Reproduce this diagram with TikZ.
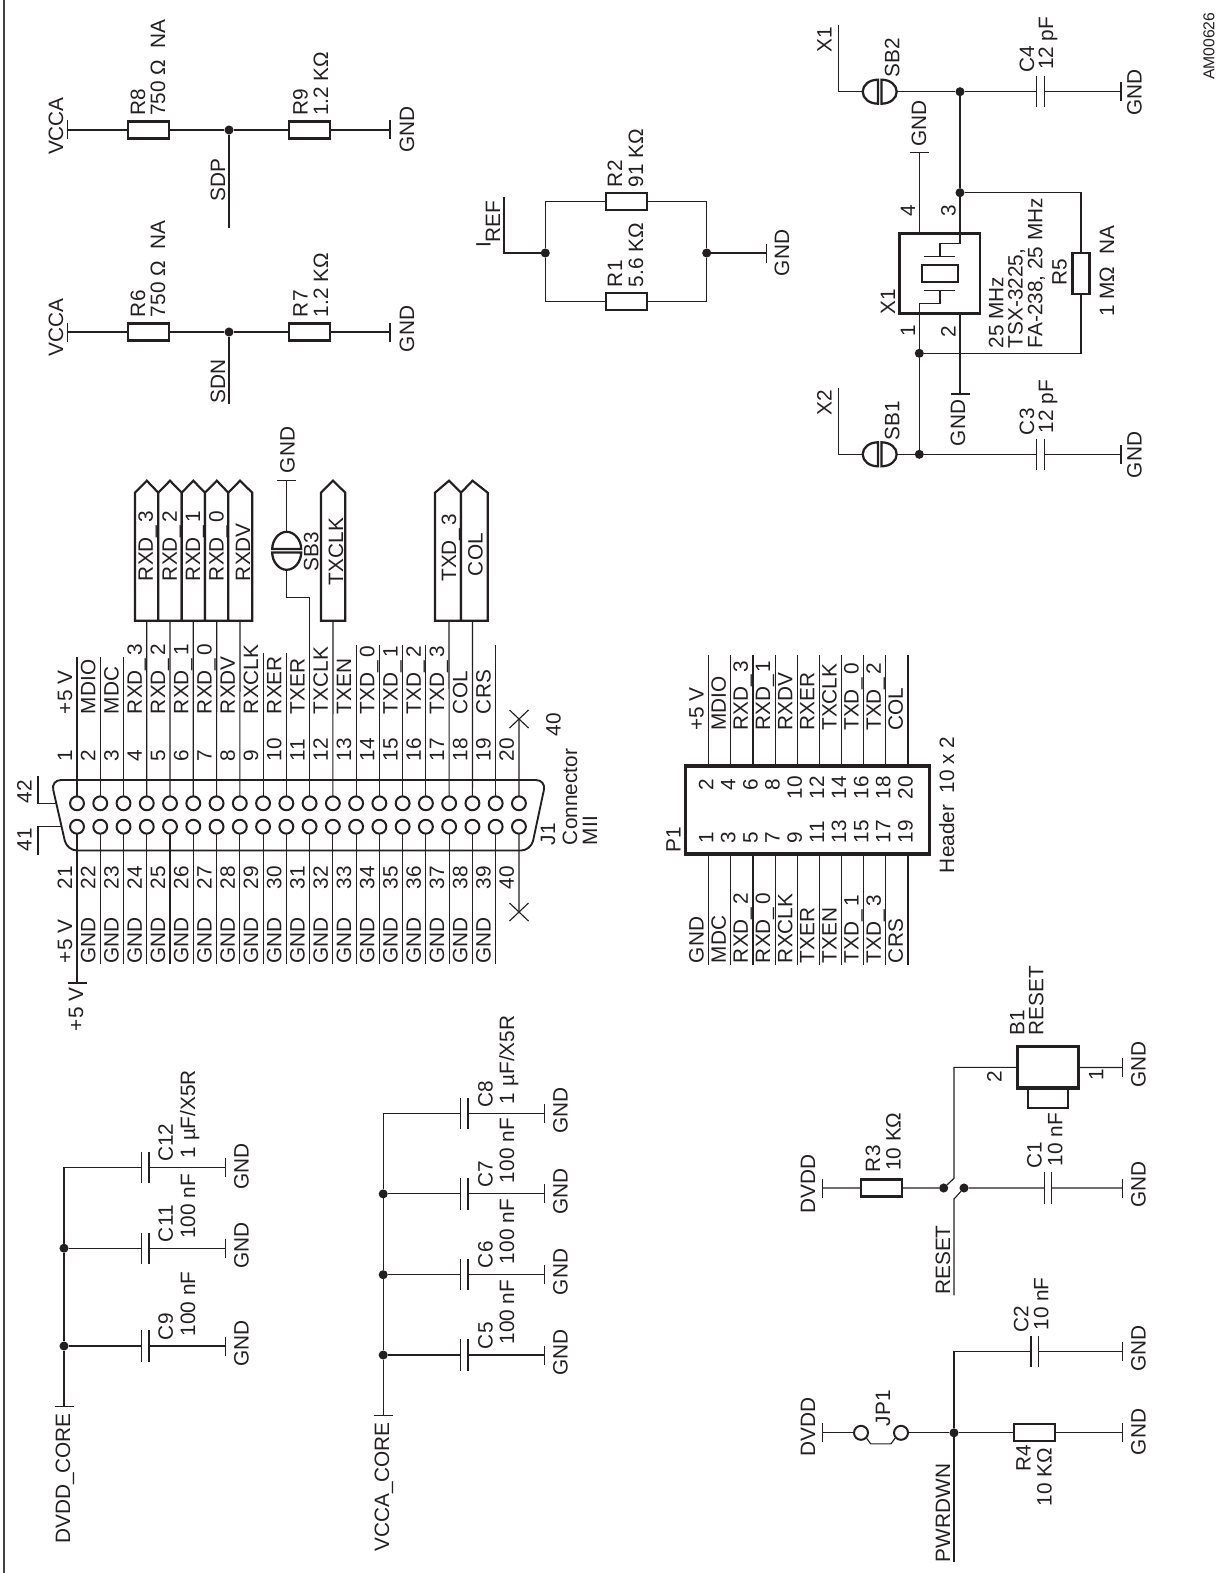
\documentclass[tikz,border=0pt]{standalone}
\usepackage{fontspec}
\setmainfont{Liberation Sans}
\definecolor{ink}{HTML}{231F20}
\tikzset{
  x=0.75pt,y=-0.75pt,
  wire/.style={draw=ink,line width=0.85pt},
  heavy/.style={draw=ink,line width=1.7pt},
  lbl/.style={anchor=base west,rotate=90,inner sep=0,outer sep=0,text=ink,font=\fontsize{15.6}{18}\selectfont},
  small/.style={font=\fontsize{11.8}{14}\selectfont},
  res/.style={rectangle,draw=ink,line width=1.7pt,minimum width=30.75pt,minimum height=12.75pt,inner sep=0,outer sep=0},
  dot/.style={circle,fill=ink,minimum size=6.8pt,inner sep=0,outer sep=0},
  capbody/.style={rectangle,minimum width=5.6pt,minimum height=23.5pt,inner sep=0,outer sep=0},
  sbh/.style={rectangle,minimum width=25.5pt,minimum height=18pt,inner sep=0,outer sep=0},
  sbv/.style={rectangle,minimum width=22pt,minimum height=28.5pt,inner sep=0,outer sep=0},
  pin/.style={circle,draw=ink,line width=1.5pt,minimum size=10.4pt,inner sep=0,outer sep=0},
  tag/.style={draw=ink,line width=1.6pt,fill=white},
}
\newcount\lbc
\newcommand{\lb}[4][]{\global\advance\lbc 1 \node[lbl,#1] (lab\the\lbc) at (#2,#3) {#4};}
\newcommand{\barv}[3]{\coordinate (#1) at (#2,#3); \draw[wire] (#2,#3-9.5) -- (#2,#3+9.5);}
\newcommand{\barh}[3]{\coordinate (#1) at (#2,#3); \draw[wire] (#2-9.5,#3) -- (#2+9.5,#3);}
\newcommand{\dotn}[3]{\node[dot] (#1) at (#2,#3) {};}
\newcommand{\capc}[4]{\node[capbody] (#1) at ({(#2+#3)/2},#4) {};
  \draw[wire] (#1.north west) -- (#1.south west) (#1.north east) -- (#1.south east);}
% horizontal-wire solder bridge
\newcommand{\sbhoriz}[3]{\node[sbh] (#1) at (#2,#3) {};
  \begin{scope}[shift={(#2,#3)}]
  \draw[heavy] (-1.7,-12) .. controls (-10.6,-12) and (-17,-6.6) .. (-17,0) .. controls (-17,6.6) and (-10.6,12) .. (-1.7,12) -- cycle;
  \draw[heavy] (1.7,-12) .. controls (10.6,-12) and (17,-6.6) .. (17,0) .. controls (17,6.6) and (10.6,12) .. (1.7,12) -- cycle;
  \end{scope}}
\newcommand{\sbvert}[3]{\node[sbv] (#1) at (#2,#3) {};
  \begin{scope}[shift={(#2,#3)}]
  \draw[heavy] (-14.5,-1.7) .. controls (-14.5,-10.6) and (-8,-19) .. (0,-19) .. controls (8,-19) and (14.5,-10.6) .. (14.5,-1.7) -- cycle;
  \draw[heavy] (-14.5,1.7) .. controls (-14.5,10.6) and (-8,19) .. (0,19) .. controls (8,19) and (14.5,10.6) .. (14.5,1.7) -- cycle;
  \end{scope}}
\newcommand{\usc}{\_\kern2.2pt}
\begin{document}
\begin{tikzpicture}
\useasboundingbox (0,0) rectangle (1225,1573);
\coordinate (FTop) at (3.8,0); \coordinate (FBot) at (3.8,1573);
\draw[draw=ink!85,line width=1.4pt] (FTop) -- (FBot);
\lb[small]{1214.3}{80}{AM00626}

%% ---------- R8/R9 ----------
\barv{V8}{67.7}{130} \node[res] (R8) at (148.7,130) {}; \dotn{J8}{229}{130} \node[res] (R9) at (309.7,130) {}; \barv{G9}{390}{130}
\coordinate (SDPe) at (229,228);
\draw[wire] (V8) -- (R8) -- (J8) -- (R9) -- (G9) (J8) -- (SDPe);
\lb{63}{155}{VCCA} \lb{145}{115.7}{R8} \lb{165}{115.7}{750 Ω \ NA} \lb{307.7}{115.7}{R9} \lb{328}{115.7}{1.2 KΩ} \lb{414}{153}{GND} \lb{225}{201}{SDP}
%% ---------- R6/R7 ----------
\barv{V6}{67.7}{332} \node[res] (R6) at (148.7,332) {}; \dotn{J6}{229}{332} \node[res] (R7) at (309.7,332) {}; \barv{G7}{390}{332}
\coordinate (SDNe) at (229,404);
\draw[wire] (V6) -- (R6) -- (J6) -- (R7) -- (G7) (J6) -- (SDNe);
\lb{63}{356}{VCCA} \lb{145}{317}{R6} \lb{165}{317}{750 Ω \ NA} \lb{307.7}{317}{R7} \lb{328}{317}{1.2 KΩ} \lb{414}{352}{GND} \lb{225}{403}{SDN}

%% ---------- R1/R2 ----------
\node[res] (R2) at (626.2,201.5) {}; \node[res] (R1) at (626.2,301.3) {};
\dotn{JL}{545.3}{253} \dotn{JR}{706.7}{253} \barv{GR}{766.7}{253}
\coordinate (IREFe) at (504,197);
\draw[wire] (IREFe) |- (JL) (JL) |- (R2) (JL) |- (R1) (JR) |- (R2) (JR) |- (R1) (JR) -- (GR);
\lb{490.7}{247}{I} \lb{500}{242.7}{REF} \lb{622}{187}{R2} \lb{643}{187}{91 KΩ} \lb{622}{287}{R1} \lb{643}{287}{5.6 KΩ} \lb{789}{276}{GND}

%% ---------- Crystal ----------
\coordinate (X1e) at (838.3,25); \coordinate (X2e) at (838.3,388.3);
\sbhoriz{SB2}{879.7}{91.7} \sbhoriz{SB1}{879.7}{454.3}
\dotn{JA}{960}{91.7} \dotn{JB}{960}{192.7} \dotn{JC}{919.3}{353.3} \dotn{JD}{919.3}{454.3}
\capc{C4}{1036.7}{1044.3}{91.7} \capc{C3}{1036.7}{1044.3}{454.3}
\barv{G4}{1121}{91.7} \barv{G3}{1121}{454.3}
\barh{G14}{919.3}{152.3} \barh{G12}{960}{394}
\node[rectangle,draw=ink,line width=2pt,minimum width=60.5pt,minimum height=60pt,inner sep=0,outer sep=0] (XBOX) at (939.65,273.3) {};
\node[rectangle,draw=ink,line width=1.7pt,minimum width=27.5pt,minimum height=12.5pt,inner sep=0,outer sep=0] (XQ) at (940,273.3) {};
\coordinate (P3i) at (960,243.3); \coordinate (P3b) at (940,256.7); \coordinate (P1i) at (940,290.7); \coordinate (P1b) at (919.3,303.3);
\draw[wire] (924,256.7) -- (955,256.7); \draw[wire] (924,290.7) -- (955,290.7);
\draw[wire] (X1e) |- (SB2) (SB2) -- (JA) -- (C4) -- (G4) (JA) -- (JB) -- (P3i) -| (P3b);
\draw[wire] (P1i) |- (P1b) -- (JC) -- (JD) (X2e) |- (SB1) (SB1) -- (JD) -- (C3) -- (G3);
\draw[wire] (G14) -- (919.3,233.3) (960,313.3) -- (G12);
\node[rectangle,draw=ink,line width=1.7pt,minimum width=12.75pt,minimum height=31pt,inner sep=0,outer sep=0] (R5) at (1081,273.3) {};
\draw[wire] (JB) -| (R5) (JC) -| (R5);
\lb{831.7}{52.7}{X1} \lb{831.7}{415}{X2} \lb{899.3}{77.7}{SB2} \lb{899.3}{440}{SB1}
\lb{1034}{72.7}{C4} \lb{1053}{70}{12 pF} \lb{1141.7}{116}{GND} \lb{1034}{435}{C3} \lb{1053}{433}{12 pF} \lb{1141.7}{478}{GND}
\lb{926}{146.7}{GND} \lb{965}{446}{GND}
\lb{915}{216.7}{4} \lb{955.7}{216.7}{3} \lb{915}{336.7}{1} \lb{955.7}{337.7}{2} \lb{895}{314.3}{X1}
\lb{1003.3}{348.3}{25 MHz} \lb{1022.7}{348.3}{TSX-3225,} \lb{1042.3}{348.3}{FA-238, 25 MHz} \lb{1066.7}{285.7}{R5} \lb{1114}{316.7}{1 MΩ \ NA}

%% ---------- J1 connector ----------
\draw[heavy,line width=1.4pt,rounded corners=7.5pt] (51,780) -- (546,780) -- (531,850.5) -- (67,850.5) -- cycle;
\foreach \i in {1,...,20}{
  \pgfmathsetmacro{\px}{77+(\i-1)*23.26}
  \node[pin] (pa\i) at (\px,803.3) {};
  \node[pin] (pb\i) at (\px,826.7) {};
}
\foreach \i/\t in {1/657,2/657,3/657,9/653,10/653,13/645,14/645,15/645,16/645,19/645}{
  \pgfmathsetmacro{\px}{77+(\i-1)*23.26}
  \coordinate (ta\i) at (\px,\t);
  \draw[wire] (pa\i) -- (ta\i);
}
\foreach \i in {2,...,19}{
  \pgfmathsetmacro{\px}{77+(\i-1)*23.26}
  \coordinate (bb\i) at (\px,964);
  \draw[wire] (pb\i) -- (bb\i);
}
\barh{P5B}{77}{983}
\draw[wire] (pb1) -- (P5B);
\coordinate (XT) at (519,719); \coordinate (XB) at (519,912);
\draw[wire] (pa20) -- (XT) (pb20) -- (XB);
\draw[wire] (509.5,710) -- (528.5,728) (509.5,728) -- (528.5,710);
\draw[wire] (509.5,903) -- (528.5,921) (509.5,921) -- (528.5,903);
\coordinate (L42) at (38,776); \coordinate (L41) at (38,855);
\draw[wire] (L42) |- (55.5,803.3) (L41) |- (60.7,826.7);
\lb{31.6}{803}{42} \lb{31.6}{851}{41} \lb{560.5}{736}{40} \lb{555}{845}{J1} \lb{577}{845}{Connector} \lb{597}{845}{MII} \lb{83}{1031}{+5 V}
% pin numbers
\foreach \i in {1,...,20}{
  \pgfmathsetmacro{\px}{77+(\i-1)*23.26-5}
  \lb{\px}{761}{\i}
  \pgfmathtruncatemacro{\j}{\i+20}
  \lb{\px}{889}{\j}
}
\foreach \i/\t in {1/+5 V,2/MDIO,3/MDC,4/RXD\usc3,5/RXD\usc2,6/RXD\usc1,7/RXD\usc0,8/RXDV,9/RXCLK,10/RXER,11/TXER,12/TXCLK,13/TXEN,14/TXD\usc0,15/TXD\usc1,16/TXD\usc2,17/TXD\usc3,18/COL,19/CRS}{
  \pgfmathsetmacro{\px}{77+(\i-1)*23.26-5}
  \lb{\px}{714}{\t}
}
\lb{72}{963}{+5 V}
\foreach \i in {2,...,19}{
  \pgfmathsetmacro{\px}{77+(\i-1)*23.26-5}
  \lb{\px}{963.3}{GND}
}
% tags
\newcommand{\tagshape}[5]{%name, left, right, tip-x, text
  \draw[tag] (#2,620.7) -- (#2,492.7) -- (#4,480.7) -- (#3,492.7) -- (#3,620.7) -- cycle;
  \node[inner sep=0,outer sep=0] (#1) at (#4,620.7) {};}
\tagshape{TG0}{135}{158.3}{146.8}{}
\tagshape{TG1}{158.3}{181.7}{170}{}
\tagshape{TG2}{181.7}{205}{193.3}{}
\tagshape{TG3}{205}{228.3}{216.8}{}
\tagshape{TG4}{228.3}{252.3}{240}{}
\tagshape{TG5}{321}{345.3}{333}{}
\tagshape{TG6}{435}{461}{449}{}
\tagshape{TG7}{461}{487.7}{472.5}{}
\draw[wire] (pa4) -- (TG0) (pa5) -- (TG1) (pa6) -- (TG2) (pa7) -- (TG3) (pa8) -- (TG4) (pa12) -- (TG5) (pa17) -- (TG6) (pa18) -- (TG7);
\lb{152.8}{581}{RXD\usc3} \lb{176.8}{581}{RXD\usc2} \lb{200.2}{581}{RXD\usc1} \lb{223.5}{581}{RXD\usc0} \lb{250}{581}{RXDV}
\lb{343}{585}{TXCLK} \lb{456.2}{581.7}{TXD\usc3} \lb{482.7}{576}{COL}
% SB3
\sbvert{SB3}{286.7}{550.8} \barh{G33}{286.7}{480.7}
\draw[wire] (G33) -- (SB3) (SB3) |- (pa11 |- 0,597.3) -- (pa11);
\lb{318.3}{571}{SB3} \lb{294.5}{473}{GND}

%% ---------- P1 header ----------
\node[rectangle,draw=ink,line width=2.4pt,minimum width=182.7pt,minimum height=66pt,inner sep=0,outer sep=0] (P1) at (807.5,810) {};
\foreach \i/\tt/\bt in {1/+5 V/GND,2/MDIO/MDC,3/RXD\usc3/RXD\usc2,4/RXD\usc1/RXD\usc0,5/RXDV/RXCLK,6/RXER/TXER,7/TXCLK/TXEN,8/TXD\usc0/TXD\usc1,9/TXD\usc2/TXD\usc3,10/COL/CRS}{
  \pgfmathsetmacro{\px}{708.7+(\i-1)*22.14}
  \pgfmathsetmacro{\qx}{\px-5}
  \pgfmathsetmacro{\nx}{\px+4.6}
  \coordinate (pt\i) at (\px,655); \coordinate (pq\i) at (\px,965);
  \draw[wire] (pt\i) -- (\px,766) (\px,854) -- (pq\i);
  \lb{\qx}{730.7}{\tt}
  \lb{\qx}{963}{\bt}
  \pgfmathtruncatemacro{\en}{2*\i}
  \pgfmathtruncatemacro{\on}{2*\i-1}
  \ifnum\en<10 \lb{\nx}{790.7}{\en} \else \lb{\nx}{799}{\en} \fi
  \lb{\nx}{843}{\on}
}
\lb{680.7}{852}{P1} \lb{954}{873}{Header \ 10 x 2}

%% ---------- Reset block ----------
\barv{VR3}{822.7}{1188} \node[res] (R3) at (881.7,1188) {}; \dotn{JS1}{943.7}{1188} \dotn{JS2}{964}{1188}
\capc{C1}{1044}{1052}{1188} \barv{GC1}{1122.3}{1188}
\node[rectangle,draw=ink,line width=2.4pt,minimum width=45.75pt,minimum height=31pt,inner sep=0,outer sep=0] (B1) at (1047.8,1067.4) {};
\node[rectangle,draw=ink,line width=1.6pt,minimum width=30pt,minimum height=14.5pt,inner sep=0,outer sep=0] (B1b) at (1048.3,1097.9) {};
\barv{GB1}{1122.3}{1067.5}
\coordinate (SWa) at (954,1178.3); \coordinate (SWb) at (954,1199); \coordinate (RSTe) at (954,1295.4);
\draw[wire] (VR3) -- (R3) -- (JS1) -- (SWa) |- (B1) (JS2) -- (C1) -- (GC1) (B1) -- (GB1) (JS2) -- (SWb) -- (RSTe);
\lb{815}{1213.8}{DVDD} \lb{880}{1172}{R3} \lb{900.7}{1170.8}{10 KΩ} \lb{950}{1294.7}{RESET} \lb{1041.7}{1168.7}{C1} \lb{1062.3}{1166}{10 nF} \lb{1145.7}{1207.6}{GND}
\lb{1024.3}{1035.4}{B1} \lb{1043.3}{1035.4}{RESET} \lb{1001.7}{1082}{2} \lb{1103.3}{1080}{1} \lb{1145.7}{1087.8}{GND}

%% ---------- JP1 block ----------
\barv{VJ}{822.7}{1432.8}
\node[circle,draw=ink,line width=1.5pt,minimum size=10.5pt,inner sep=0,outer sep=0] (JPa) at (861,1432.8) {};
\node[circle,draw=ink,line width=1.5pt,minimum size=10.5pt,inner sep=0,outer sep=0] (JPb) at (901,1432.8) {};
\dotn{JP}{954}{1432.8} \node[res] (R4) at (1034.8,1432.8) {}; \barv{GR4}{1122.3}{1432.8}
\capc{C2}{1030.7}{1038.7}{1351.5} \barv{GC2}{1122.3}{1351.5}
\coordinate (PWe) at (954,1562);
\draw[wire] (VJ) -- (JPa) (JPb) -- (JP) -- (R4) -- (GR4) (JP) |- (C2) (C2) -- (GC2) (JP) -- (PWe);
\draw[wire] (JPa) ++(5.7,5.5) -- ++(4,5.5) -- ++(20.3,0) -- ++(4,-5.5);
\lb{815}{1456.2}{DVDD} \lb{890}{1426}{JP1} \lb{950}{1562}{PWRDWN} \lb{1030.7}{1471.7}{R4} \lb{1051.7}{1506}{10 KΩ} \lb{1145.7}{1455}{GND}
\lb{1028.3}{1332.6}{C2} \lb{1048.3}{1330.5}{10 nF} \lb{1145.7}{1371.9}{GND}

%% ---------- DVDD_CORE decoupling ----------
\barh{DCB}{64}{1406.2} \dotn{DJ2}{64}{1248.2} \dotn{DJ3}{64}{1346}
\coordinate (DJ1) at (64,1167.4);
\capc{C12}{141.8}{148.6}{1167.4} \capc{C11}{141.8}{148.6}{1248.2} \capc{C9}{141.8}{148.6}{1346}
\barv{GC12}{225.7}{1167.4} \barv{GC11}{225.7}{1248.2} \barv{GC9}{225.7}{1346}
\draw[wire] (DCB) -- (DJ3) -- (DJ2) -- (DJ1) -- (C12) -- (GC12) (DJ2) -- (C11) -- (GC11) (DJ3) -- (C9) -- (GC9);
\lb{70}{1543.8}{DVDD\_CORE} \lb{172.9}{1161.8}{C12} \lb{195}{1158.3}{1 µF/X5R} \lb{172.9}{1242}{C11} \lb{195}{1238.7}{100 nF} \lb{172.9}{1340}{C9} \lb{195}{1336.4}{100 nF}
\lb{248.6}{1189.3}{GND} \lb{248.6}{1268.7}{GND} \lb{248.6}{1366.7}{GND}

%% ---------- VCCA_CORE decoupling ----------
\barh{VCB}{383.2}{1415.8} \dotn{VJ7}{383.2}{1193.9} \dotn{VJ6}{383.2}{1274.7} \dotn{VJ5}{383.2}{1355}
\coordinate (VJ8) at (383.2,1113.5);
\capc{C8}{460.7}{467.9}{1113.5} \capc{C7}{460.7}{467.9}{1193.9} \capc{C6}{460.7}{467.9}{1274.7} \capc{C5}{460.7}{467.9}{1355}
\barv{GC8}{544.6}{1113.5} \barv{GC7}{544.6}{1193.9} \barv{GC6}{544.6}{1274.7} \barv{GC5}{544.6}{1355}
\draw[wire] (VCB) -- (VJ5) -- (VJ6) -- (VJ7) -- (VJ8) -- (C8) -- (GC8) (VJ7) -- (C7) -- (GC7) (VJ6) -- (C6) -- (GC6) (VJ5) -- (C5) -- (GC5);
\lb{389}{1551.6}{VCCA\_CORE} \lb{492.5}{1107.5}{C8} \lb{514}{1104}{1 µF/X5R} \lb{492.5}{1187.5}{C7} \lb{514}{1183}{100 nF} \lb{492.5}{1268}{C6} \lb{514}{1264}{100 nF} \lb{492.5}{1349}{C5} \lb{514}{1344.5}{100 nF}
\lb{567.5}{1133.6}{GND} \lb{567.5}{1214.7}{GND} \lb{567.5}{1295}{GND} \lb{567.5}{1375.6}{GND}
\end{tikzpicture}
\end{document}
